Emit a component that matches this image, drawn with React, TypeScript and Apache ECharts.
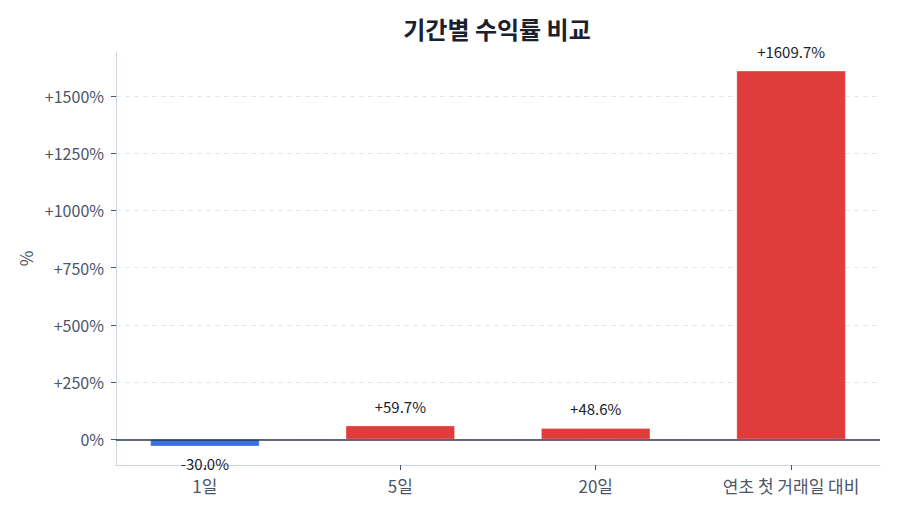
import React, { useEffect, useRef } from "react";
import * as echarts from "echarts";

const categories = ["1일", "5일", "20일", "연초 첫 거래일 대비"];
const returns = [-30.0, 59.7, 48.6, 1609.7];
const yTicks = [0, 250, 500, 750, 1000, 1250, 1500];
const titleText = "기간별 수익률 비교";

const FONT = "'Noto Sans CJK KR', 'Noto Sans', sans-serif";
const UP = "#e03c3c";
const DOWN = "#3b6fe6";

export default function App() {
  const ref = useRef<HTMLDivElement>(null);
  useEffect(() => {
    if (!ref.current) return;
    const chart = echarts.init(ref.current, null, { renderer: "svg" });
    const fmt = (v: number) => (v > 0 ? "+" : "") + String(v) + "%";
    chart.setOption({
      animation: false,
      textStyle: { fontFamily: FONT },
      title: {
        text: titleText,
        left: 484,
        textAlign: "center",
        top: 3,
        textStyle: { fontFamily: FONT, fontSize: 24, fontWeight: "bold", color: "#1a202c" },
      },
      grid: { left: 108, right: 12, top: 44, bottom: 49, containLabel: false },
      xAxis: {
        type: "value",
        min: -0.455,
        max: 3.455,
        splitLine: { show: false },
        axisLine: { show: true, onZero: false, lineStyle: { color: "#cbd5e0", width: 1 } },
        axisTick: { show: true, customValues: [0, 1, 2, 3], length: 5, lineStyle: { color: "#4a5568" } },
        axisLabel: {
          customValues: [0, 1, 2, 3],
          formatter: (v: number) => categories[Math.round(v)] ?? "",
          color: "#4a5568",
          fontSize: 17,
          fontFamily: FONT,
          margin: 12,
        },
      },
      yAxis: {
        type: "value",
        min: -112,
        max: 1692,
        name: "%",
        nameLocation: "middle",
        nameRotate: 90,
        nameGap: 82,
        nameTextStyle: { color: "#4a5568", fontSize: 17, fontFamily: FONT },
        axisLine: { show: true, onZero: false, lineStyle: { color: "#cbd5e0", width: 1 } },
        axisTick: { show: true, customValues: yTicks, length: 5, lineStyle: { color: "#4a5568" } },
        axisLabel: {
          customValues: yTicks,
          formatter: (v: number) => fmt(v),
          color: "#4a5568",
          fontSize: 16,
          fontFamily: FONT,
          margin: 12,
        },
        splitLine: { show: true, lineStyle: { color: "#e2e8f0", type: [5, 4], width: 1 } },
      },
      series: [
        {
          type: "bar",
          barWidth: 109,
          data: returns.map((v, i) => ({
            value: [i, v],
            itemStyle: { color: v >= 0 ? UP : DOWN, borderColor: "rgba(255,255,255,0.6)", borderWidth: 0.5 },
            label: {
              show: true,
              position: v >= 0 ? "top" : "bottom",
              distance: v >= 0 ? 12 : 10,
              formatter: (v > 0 ? "+" : "") + v.toFixed(1) + "%",
              color: "#1a202c",
              fontSize: 15,
              fontFamily: FONT,
            },
          })),
          markLine: {
            silent: true,
            symbol: "none",
            label: { show: false },
            lineStyle: { color: "#2d3748", width: 1.5, type: "solid" },
            data: [{ yAxis: 0 }],
          },
          z: 3,
        },
      ],
    });
    return () => chart.dispose();
  }, []);
  return <div ref={ref} style={{ width: 884, height: 506 }} />;
}
